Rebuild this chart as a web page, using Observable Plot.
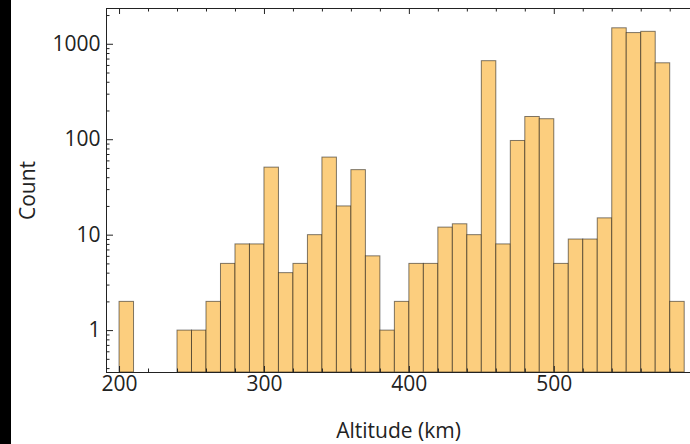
<!DOCTYPE html>
<html><head><meta charset="utf-8">
<script src="https://cdn.jsdelivr.net/npm/d3@7"></script>
<script src="https://cdn.jsdelivr.net/npm/@observablehq/plot@0.6"></script>
<style>
html,body{margin:0;padding:0;background:#fff;}
#wrap{border-left:11px solid #000;width:679px;height:444px;}
</style></head><body><div id="wrap"></div>
<script>
const binStarts = [200,210,220,230,240,250,260,270,280,290,300,310,320,330,340,350,360,370,380,390,400,410,420,430,440,450,460,470,480,490,500,510,520,530,540,550,560,570,580];
const counts    = [2,0,0,0,1,1,2,5,8,8,51,4,5,10,65,20,48,6,1,2,5,5,12,13,10,665,8,97,173,164,5,9,9,15,1470,1310,1350,632,2];
const binWidth = 10;
const xTicksMajor = [200,300,400,500];
const xTicksMinor = [220,240,260,280,320,340,360,380,420,440,460,480,520,540,560,580];
const yTicksMajor = [1,10,100,1000];
const yTicksMinor = [0.4,0.5,0.6,0.7,0.8,0.9,2,3,4,5,6,7,8,9,20,30,40,50,60,70,80,90,200,300,400,500,600,700,800,900,2000];
const xDomain = [191,594];
const yDomain = [0.364,2370];

const bins = binStarts.map((x0,i)=>({x0, x1: x0+binWidth, count: counts[i]})).filter(d=>d.count>0);
const W=679, H=444, mL=95, mR=0, mT=8, mB=72;
const pw = W-mL-mR, ph = H-mT-mB;
const ink = "#222";
const chart = Plot.plot({
  width:W, height:H, marginLeft:mL, marginRight:mR, marginTop:mT, marginBottom:mB,
  style:{fontFamily:"'Open Sans', sans-serif", fontSize:"21px", color:ink, background:"white", overflow:"visible"},
  x:{type:"linear", domain:xDomain},
  y:{type:"log", domain:yDomain},
  marks:[
    Plot.rect(bins,{x1:"x0",x2:"x1",y1:yDomain[0],y2:"count",fill:"#FCCE7E",stroke:"#000",strokeOpacity:0.5,strokeWidth:1}),
    Plot.ruleY(yTicksMajor,{insetRight:pw-7,stroke:ink}),
    Plot.ruleY(yTicksMinor,{insetRight:pw-3.5,stroke:ink}),
    Plot.ruleX(xTicksMajor,{insetBottom:ph-6,stroke:ink}),
    Plot.ruleX(xTicksMinor,{insetBottom:ph-3.5,stroke:ink}),
    Plot.ruleX(xTicksMajor,{insetTop:ph-6,stroke:ink}),
    Plot.ruleX(xTicksMinor,{insetTop:ph-3.5,stroke:ink}),
    Plot.ruleX([xDomain[0]],{stroke:ink}),
    Plot.ruleY([yDomain[0], yDomain[1]],{stroke:ink}),
    Plot.axisX(xTicksMajor,{tickSize:0,tickPadding:4,tickFormat:d=>String(d),label:"Altitude (km)",labelAnchor:"center",labelOffset:65,labelArrow:"none"}),
    Plot.axisY(yTicksMajor,{tickSize:0,tickPadding:6,tickFormat:d=>String(d),label:"Count",labelAnchor:"center",labelOffset:86,labelArrow:"none"})
  ]
});
document.getElementById("wrap").appendChild(chart);
</script></body></html>
